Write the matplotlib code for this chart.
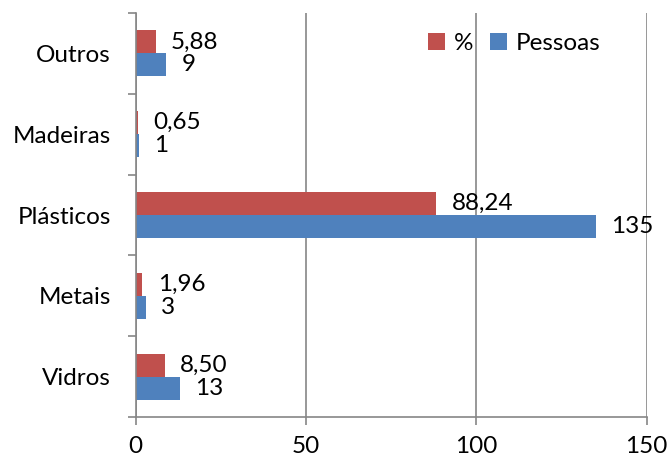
import numpy as np
import matplotlib
matplotlib.use("Agg")
import matplotlib.pyplot as plt

# data
categorias = ["Vidros", "Metais", "Plásticos", "Madeiras", "Outros"]
pessoas = [13, 3, 135, 1, 9]
percent = [8.50, 1.96, 88.24, 0.65, 5.88]
pessoas_lbl = ["13", "3", "135", "1", "9"]
percent_lbl = ["8,50", "1,96", "88,24", "0,65", "5,88"]
xticks = [0, 50, 100, 150]

plt.rcParams['font.family'] = ['Lato', 'DejaVu Sans']
fs = 17.5
gray = '#868686'

fig = plt.figure(figsize=(6.68, 4.61), dpi=100)
ax = fig.add_axes([0.2031, 0.0954, 0.7650, 0.8764])

y = np.arange(len(categorias))
h = 0.285
b_pct = ax.barh(y + h/2, percent, height=h, color='#C0504D', label='%')
b_pes = ax.barh(y - h/2, pessoas, height=h, color='#4F81BD', label='Pessoas')

# value labels right of the bars
for bars, lbls in ((b_pct, percent_lbl), (b_pes, pessoas_lbl)):
    for bar, txt in zip(bars, lbls):
        ax.annotate(txt, (bar.get_width(), bar.get_y() + bar.get_height()/2),
                    xytext=(11, 0), textcoords='offset points',
                    ha='left', va='center', fontsize=fs, clip_on=False)

ax.set_xlim(0, 150)
ax.set_ylim(-0.5, len(categorias) - 0.5)
ax.set_xticks(xticks)
ax.set_xticklabels([str(t) for t in xticks], fontsize=fs)
ax.set_yticks(y)
ax.set_yticklabels(categorias, fontsize=fs)
ax.set_yticks(np.arange(-0.5, len(categorias)), minor=True)
ax.tick_params(axis='y', which='major', length=0, pad=18)
ax.tick_params(axis='y', which='minor', length=6, color=gray, width=1.2)
ax.tick_params(axis='x', length=6, color=gray, width=1.2, pad=8)

ax.grid(axis='x', color=gray, linewidth=1.2)
ax.set_axisbelow(True)
for s in ('top', 'right'):
    ax.spines[s].set_visible(False)
for s in ('left', 'bottom'):
    ax.spines[s].set_color(gray)
    ax.spines[s].set_linewidth(1.2)

ax.legend(ncol=2, loc='center', bbox_to_anchor=(0.770, 0.906),
          bbox_transform=fig.transFigure, frameon=False, fontsize=fs,
          handlelength=0.7, handleheight=0.7, handletextpad=0.35,
          columnspacing=0.7)

fig.savefig('out.png', dpi=100)
